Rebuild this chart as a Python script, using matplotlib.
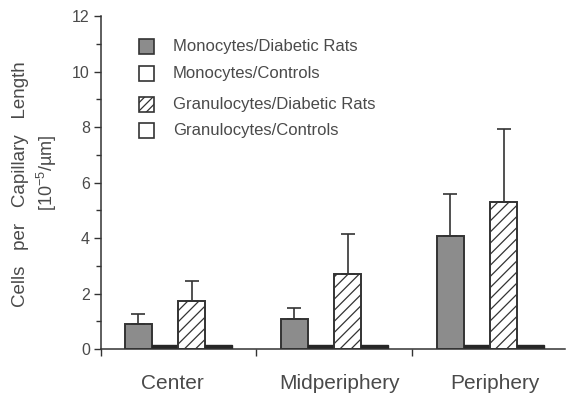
import numpy as np
import matplotlib.pyplot as plt
from matplotlib.patches import Rectangle

plt.rcParams['font.family'] = ['Liberation Sans', 'DejaVu Sans']
plt.rcParams['hatch.linewidth'] = 0.9

# regions of the retina
regions = ['Center', 'Midperiphery', 'Periphery']

# cells per capillary length
mono_diabetic = [0.89, 1.09, 4.07]
mono_diabetic_err = [0.38, 0.39, 1.52]
mono_controls = [0.15, 0.15, 0.13]
gran_diabetic = [1.72, 2.70, 5.30]
gran_diabetic_err = [0.72, 1.44, 2.64]
gran_controls = [0.15, 0.13, 0.13]

legend_labels = ['Monocytes/Diabetic Rats', 'Monocytes/Controls',
                 'Granulocytes/Diabetic Rats', 'Granulocytes/Controls']

text_color = '#4a4a4a'
edge_color = '#333333'

fig = plt.figure(figsize=(5.67, 4.16), dpi=100)
ax = fig.add_axes([0.178, 0.161, 0.8185, 0.8005])

x = np.arange(len(regions))
w = 0.1715

# four bars per region, diabetic ones with upward error bars
ax.bar(x - 1.5 * w, mono_diabetic, w, facecolor='#8c8c8c', edgecolor=edge_color, linewidth=1.4)
ax.bar(x - 0.5 * w, mono_controls, w, facecolor='#262626', edgecolor='#262626', linewidth=1.0)
ax.bar(x + 0.5 * w, gran_diabetic, w, facecolor='white', edgecolor=edge_color, linewidth=1.4, hatch='///')
ax.bar(x + 1.5 * w, gran_controls, w, facecolor='#262626', edgecolor='#262626', linewidth=1.0)

ax.errorbar(x - 1.5 * w, mono_diabetic, yerr=[np.zeros(3), mono_diabetic_err],
            fmt='none', ecolor=edge_color, elinewidth=1.2, capsize=5, capthick=1.2)
ax.errorbar(x + 0.5 * w, gran_diabetic, yerr=[np.zeros(3), gran_diabetic_err],
            fmt='none', ecolor=edge_color, elinewidth=1.2, capsize=5, capthick=1.2)

# axes styling
ax.set_xlim(-0.497, 2.478)
ax.set_ylim(0, 12)
ax.spines['top'].set_visible(False)
ax.spines['right'].set_visible(False)
for s in ['left', 'bottom']:
    ax.spines[s].set_color(edge_color)
    ax.spines[s].set_linewidth(1.1)

ax.set_yticks(np.arange(0, 13, 2))
ax.set_yticks(np.arange(1, 12, 2), minor=True)
ax.tick_params(axis='y', which='major', length=5, width=1.0, color=edge_color,
               labelsize=11.5, labelcolor=text_color, pad=3)
ax.tick_params(axis='y', which='minor', length=3.5, width=1.0, color=edge_color)

# group separators as x ticks, region names as text below
ax.set_xticks([-0.497, 0.5, 1.5])
ax.set_xticklabels([])
ax.tick_params(axis='x', length=5, width=1.0, color=edge_color)
shifts = [-0.04, 0.03, 0.03]
for xi, name, sh in zip(x, regions, shifts):
    ax.text(xi + sh, -0.075, name, transform=ax.get_xaxis_transform(),
            ha='center', va='top', fontsize=15, color=text_color)

# y label in two lines
fig.text(0.036, 0.558, 'Cells   per   Capillary   Length', rotation=90, ha='center', va='center',
         fontsize=13.5, color=text_color)
fig.text(0.082, 0.584, '[10$^{\\mathregular{-5}}$/µm]', rotation=90, ha='center', va='center',
         fontsize=13, color=text_color)

# legend drawn by hand
styles = [dict(facecolor='#8c8c8c', edgecolor=edge_color),
          dict(facecolor='white', edgecolor=edge_color),
          dict(facecolor='white', edgecolor=edge_color, hatch='////'),
          dict(facecolor='white', edgecolor=edge_color)]
rows_px = [46.5, 73.5, 104.5, 130]
for label, st, ypx in zip(legend_labels, styles, rows_px):
    yf = 1 - ypx / 416
    fig.patches.append(Rectangle((139 / 567, yf - 7.5 / 416), 15 / 567, 15 / 416,
                                 transform=fig.transFigure, linewidth=1.2, **st))
    fig.text(173 / 567, yf, label, ha='left', va='center', fontsize=12, color=text_color)

fig.savefig('out.png', dpi=100)
